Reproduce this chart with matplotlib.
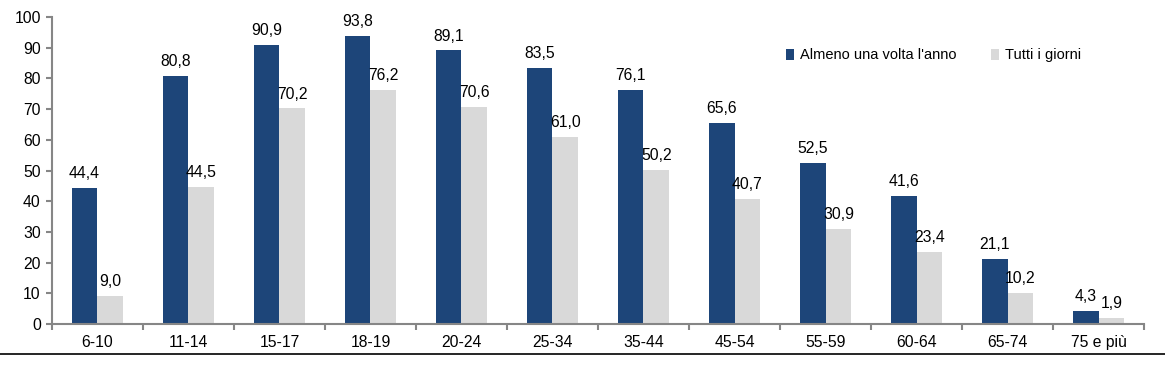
import matplotlib
matplotlib.use('Agg')
import matplotlib.pyplot as plt
import numpy as np
from matplotlib.lines import Line2D

# Data
categories = ["6-10", "11-14", "15-17", "18-19", "20-24", "25-34",
              "35-44", "45-54", "55-59", "60-64", "65-74", "75 e più"]
almeno = [44.4, 80.8, 90.9, 93.8, 89.1, 83.5, 76.1, 65.6, 52.5, 41.6, 21.1, 4.3]
tutti = [9.0, 44.5, 70.2, 76.2, 70.6, 61.0, 50.2, 40.7, 30.9, 23.4, 10.2, 1.9]
series_names = ["Almeno una volta l'anno", "Tutti i giorni"]

plt.rcParams['font.family'] = ['Liberation Sans', 'DejaVu Sans']
dark = '#1D4579'
light = '#D9D9D9'
axis_col = '#868686'
fs = 11.3

fig = plt.figure(figsize=(11.65, 3.74), dpi=100)
ax = fig.add_axes([0.0446, 0.1337, 0.9374, 0.8208])

x = np.arange(len(categories))
w = 0.285
b1 = ax.bar(x - w / 2, almeno, w, color=dark, label=series_names[0])
b2 = ax.bar(x + w / 2, tutti, w, color=light, label=series_names[1])

for bars, vals in ((b1, almeno), (b2, tutti)):
    for rect, v in zip(bars, vals):
        ax.annotate(f"{v:.1f}".replace('.', ','),
                    (rect.get_x() + rect.get_width() / 2, rect.get_height()),
                    xytext=(0, 5), textcoords='offset points',
                    ha='center', va='bottom', fontsize=fs)

ax.set_xlim(-0.5, len(categories) - 0.5)
ax.set_ylim(0, 100)
ax.set_yticks(range(0, 101, 10))
ax.set_xticks(x)
ax.set_xticklabels(categories)
ax.set_xticks(np.arange(-0.5, len(categories), 1), minor=True)
ax.tick_params(axis='x', which='major', length=0, pad=8, labelsize=fs)
ax.tick_params(axis='x', which='minor', length=4, color=axis_col, width=1.5)
ax.tick_params(axis='y', length=4, color=axis_col, width=1.5, labelsize=fs, pad=4)

for s in ('top', 'right'):
    ax.spines[s].set_visible(False)
for s in ('left', 'bottom'):
    ax.spines[s].set_color(axis_col)
    ax.spines[s].set_linewidth(1.5)

ax.legend(loc='center left', bbox_to_anchor=(0.66, 0.875), ncol=2, frameon=False,
          fontsize=10.5, handlelength=0.55, handleheight=0.85, handletextpad=0.4,
          columnspacing=2.4)

fig.add_artist(Line2D([0, 1], [0.0535, 0.0535], color='black', linewidth=1.2,
                      transform=fig.transFigure))

fig.savefig("out.png", dpi=100)
